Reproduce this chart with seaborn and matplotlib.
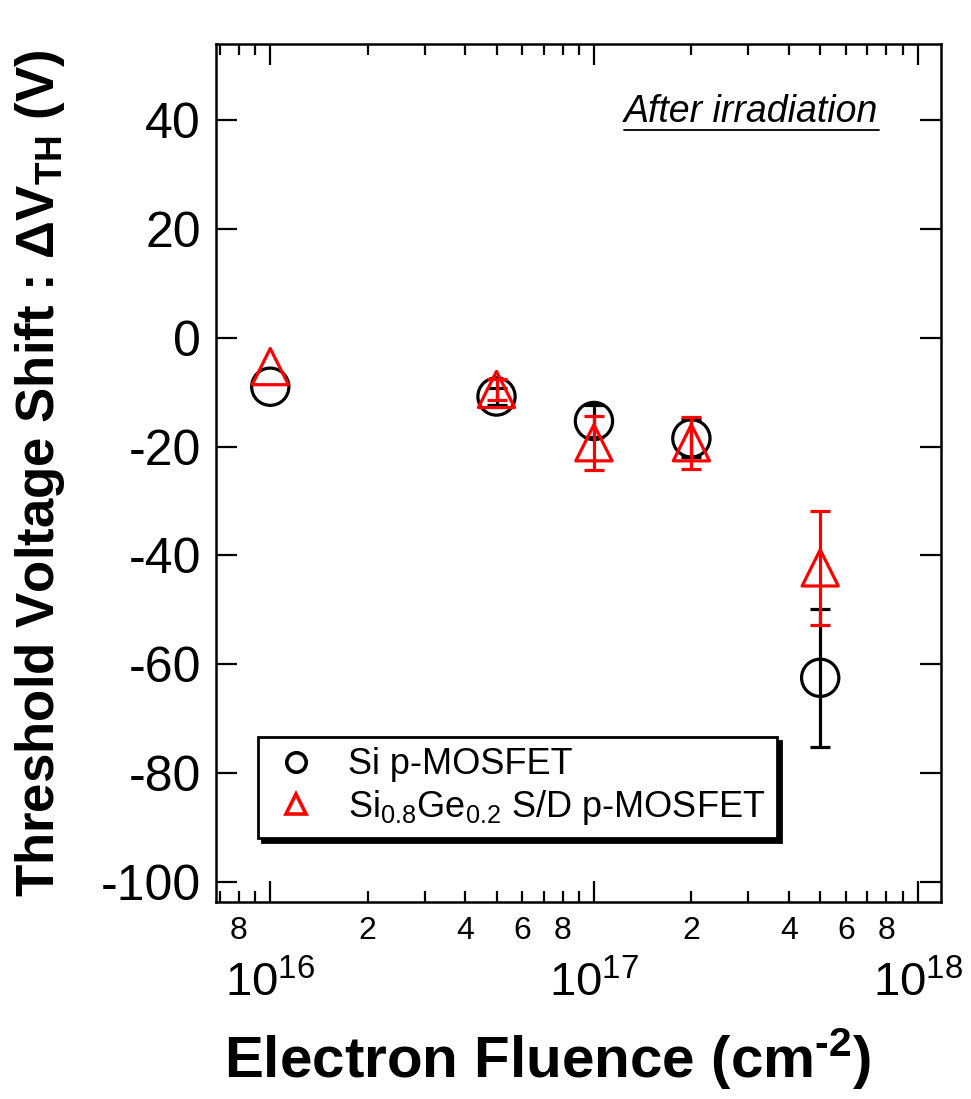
import numpy as np
import matplotlib
matplotlib.use("Agg")
import matplotlib.pyplot as plt
import matplotlib.ticker as mticker
from matplotlib.lines import Line2D
from matplotlib import font_manager
import seaborn as sns
import pandas as pd

# ---- data ----
fluence = [1e16, 5e16, 1e17, 2e17, 5e17]
si_shift = [-9.0, -10.8, -15.3, -18.5, -62.5]
si_err = [0.0, 1.5, 3.0, 3.5, 12.7]
sige_shift = [-5.3, -9.5, -19.3, -19.3, -42.3]
sige_err = [0.0, 2.0, 5.0, 4.8, 10.5]
yticks = [-100, -80, -60, -40, -20, 0, 20, 40]

sns.set_style("ticks")
plt.rcParams['font.family'] = ['Liberation Sans', 'DejaVu Sans']
plt.rcParams['mathtext.fontset'] = 'custom'
plt.rcParams['mathtext.rm'] = 'Liberation Sans'
plt.rcParams['mathtext.bf'] = 'Liberation Sans:bold'
plt.rcParams['mathtext.it'] = 'Liberation Sans:italic'
plt.rcParams['mathtext.default'] = 'regular'
plt.rcParams['axes.unicode_minus'] = False
plt.rcParams['text.color'] = 'black'
plt.rcParams['axes.labelcolor'] = 'black'
plt.rcParams['xtick.color'] = 'black'
plt.rcParams['ytick.color'] = 'black'

names = {f.name for f in font_manager.fontManager.ttflist}
narrow = 'Liberation Sans Narrow' if 'Liberation Sans Narrow' in names else 'Liberation Sans'

fig = plt.figure(figsize=(9.71, 10.99), dpi=100)
ax = fig.add_axes([0.2225, 0.1793, 0.7465, 0.7807])

df_si = pd.DataFrame({"fluence": fluence, "shift": si_shift, "err": si_err})
df_sg = pd.DataFrame({"fluence": fluence, "shift": sige_shift, "err": sige_err})

lw = 2.3
e_si = df_si[df_si["err"] > 0]
e_sg = df_sg[df_sg["err"] > 0]
ax.errorbar(e_si["fluence"], e_si["shift"], yerr=e_si["err"], fmt='none',
            ecolor='black', elinewidth=lw, capsize=7, capthick=lw, zorder=2)
sns.scatterplot(data=df_si, x="fluence", y="shift", ax=ax, marker='o', s=720,
                facecolor='none', edgecolor='black', linewidth=lw, zorder=3)
ax.errorbar(e_sg["fluence"], e_sg["shift"], yerr=e_sg["err"], fmt='none',
            ecolor='red', elinewidth=lw, capsize=7, capthick=lw, zorder=4)
sns.scatterplot(data=df_sg, x="fluence", y="shift", ax=ax, marker='^', s=680,
                facecolor='none', edgecolor='red', linewidth=lw, zorder=5)

ax.set_xscale('log')
ax.set_xlim(6.8e15, 1.18e18)
ax.set_ylim(-103.7, 54)
ax.set_yticks(yticks)
ax.set_yticklabels([str(v) for v in yticks])

ax.xaxis.set_major_locator(mticker.LogLocator(base=10, numticks=10))
ax.xaxis.set_minor_locator(mticker.LogLocator(base=10, subs=np.arange(2, 10), numticks=20))

def major_fmt(x, pos):
    e = int(round(np.log10(x)))
    return r"$10^{%d}$" % e

def minor_fmt(x, pos):
    e = np.floor(np.log10(x) + 1e-9)
    m = int(round(x / 10 ** e))
    return str(m) if m in (2, 4, 6, 8) else ""

ax.xaxis.set_major_formatter(mticker.FuncFormatter(major_fmt))
ax.xaxis.set_minor_formatter(mticker.FuncFormatter(minor_fmt))

ax.tick_params(which='both', direction='in', top=True, right=True, width=1.6, color='black')
ax.tick_params(axis='x', which='major', length=15, pad=43, labelsize=34)
ax.tick_params(axis='x', which='minor', length=8, pad=10, labelsize=23)
ax.tick_params(axis='y', which='major', length=15, pad=11, labelsize=36)
ax.tick_params(axis='y', which='minor', length=0)
for s in ax.spines.values():
    s.set_linewidth(1.8)
    s.set_color('black')

ax.set_xlabel("Electron Fluence (cm$^{\\mathbf{\u20102}}$)", fontsize=42, fontweight='bold')
ax.xaxis.set_label_coords(0.458, -0.145)
ax.set_ylabel(r"Threshold Voltage Shift : $\Delta$V$_{TH}$ (V)", fontsize=38, fontweight='bold')
ax.yaxis.set_label_coords(-0.205, 0.5)

# annotation with underline
ax.text(0.913, 0.921, "After irradiation", transform=ax.transAxes, ha='right', va='center',
        fontsize=27, style='italic', family=[narrow, 'Liberation Sans'])
ax.plot([0.563, 0.915], [0.900, 0.900], transform=ax.transAxes, color='black', lw=1.3,
        clip_on=False)

handles = [
    Line2D([], [], marker='o', ls='none', markersize=14, markerfacecolor='none',
           markeredgecolor='black', markeredgewidth=2.6),
    Line2D([], [], marker='^', ls='none', markersize=15, markerfacecolor='none',
           markeredgecolor='red', markeredgewidth=2.6),
]
labels = ["Si p-MOSFET", r"Si$_{0.8}$Ge$_{0.2}$ S/D p-MOSFET"]
leg = ax.legend(handles, labels, loc='lower left', bbox_to_anchor=(0.058, 0.075),
                fontsize=26, frameon=True, fancybox=False,
                shadow={'color': 'black', 'alpha': 1.0, 'ox': 3, 'oy': -3},
                borderpad=0.3, handletextpad=0.7, labelspacing=0.15, handlelength=1.5,
                borderaxespad=0)
leg.get_frame().set_edgecolor('black')
leg.get_frame().set_linewidth(2.0)
leg.get_frame().set_alpha(1)

fig.savefig("out.png", dpi=100)
